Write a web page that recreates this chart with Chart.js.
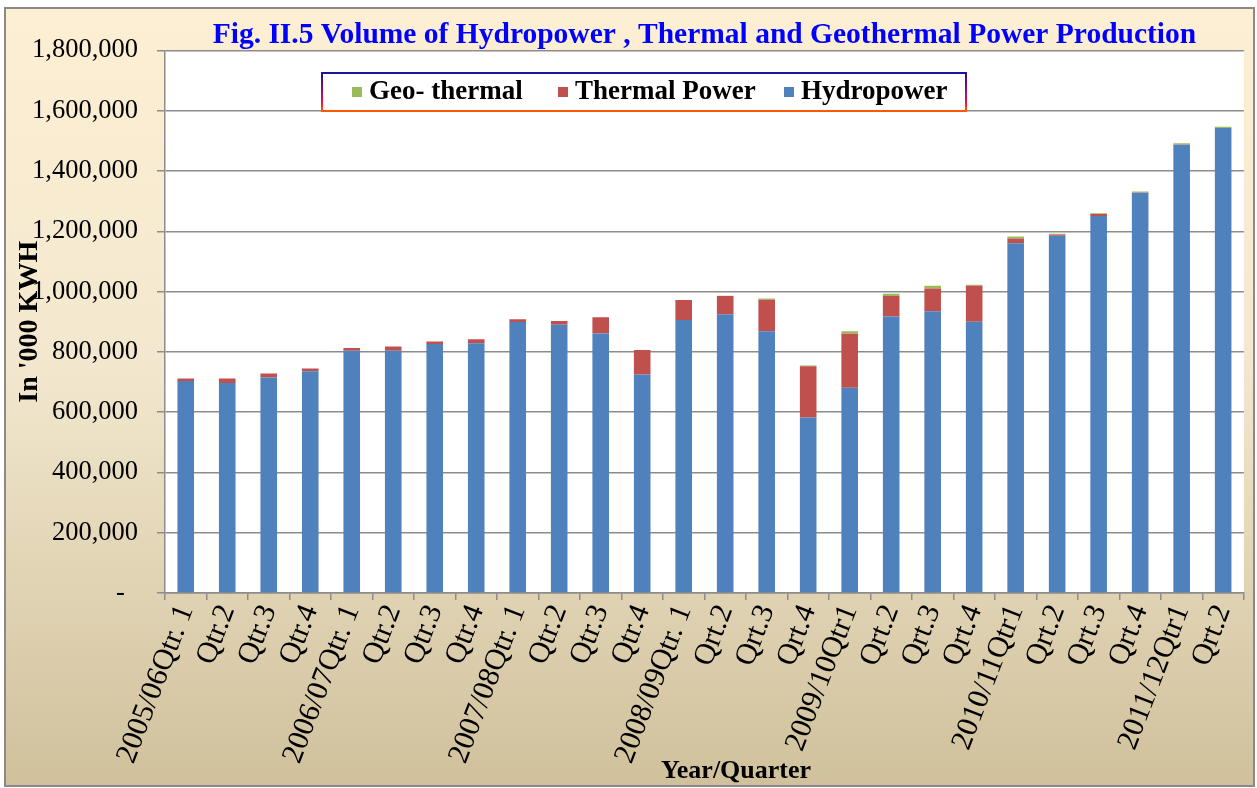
<!DOCTYPE html>
<html>
<head>
<meta charset="utf-8">
<script src="https://cdn.jsdelivr.net/npm/chart.js@4.4.1/dist/chart.umd.min.js"></script>
<style>
html,body{margin:0;padding:0;background:#fff;}
#wrap{width:1257px;height:788px;position:relative;}
</style>
</head>
<body>
<div id="wrap"><canvas id="c" width="1257" height="788"></canvas></div>
<script>
// ---- Data (in '000 KWH) ----
const categories = [
  "2005/06Qtr. 1", "Qtr.2", "Qtr.3", "Qtr.4",
  "2006/07Qtr. 1", "Qtr.2", "Qtr.3", "Qtr.4",
  "2007/08Qtr. 1", "Qtr.2", "Qtr.3", "Qtr.4",
  "2008/09Qtr. 1", "Qrt.2", "Qrt.3", "Qrt.4",
  "2009/10Qtr1", "Qrt.2", "Qrt.3", "Qrt.4",
  "2010/11Qtr1", "Qrt.2", "Qrt.3", "Qrt.4",
  "2011/12Qtr1", "Qrt.2"
];
const hydropower = [703000, 697000, 715000, 736000, 804000, 804000, 826000, 829000, 899000, 890000, 861000, 725000, 906000, 925000, 868000, 582000, 681000, 917000, 935000, 900000, 1160000, 1185000, 1251000, 1328000, 1487000, 1543000];
const thermalPower = [9000, 15000, 13000, 9000, 9000, 14000, 8000, 13000, 9000, 12000, 54000, 81000, 66000, 60000, 105000, 170000, 179000, 68000, 75000, 119000, 16000, 4000, 6000, 1000, 1000, 0];
const geothermal = [0, 0, 0, 0, 0, 0, 0, 0, 0, 0, 0, 0, 0, 1000, 4000, 3000, 8000, 8000, 9000, 4000, 7000, 3000, 3000, 3000, 4000, 4000];
const yMin = 0, yMax = 1800000, yStep = 200000;
const titleText = "Fig. II.5 Volume of Hydropower , Thermal and Geothermal Power Production";
const yTitleText = "In '000 KWH";
const xTitleText = "Year/Quarter";

const serif = "'Liberation Serif','Times New Roman',Times,serif";
const legendItemX = [352, 558, 784];

const bgPlugin = {
  id: 'bg',
  beforeDraw(chart) {
    const ctx = chart.ctx, W = chart.width, H = chart.height;
    ctx.save();
    ctx.fillStyle = '#ffffff';
    ctx.fillRect(0, 0, W, H);
    const g = ctx.createLinearGradient(0, 8, 0, 786);
    g.addColorStop(0, '#FDEFD3');
    g.addColorStop(0.45, '#F3E8CF');
    g.addColorStop(1, '#D0C19C');
    ctx.fillStyle = g;
    ctx.fillRect(5, 8, 1249, 778);
    ctx.strokeStyle = '#8a8a8a';
    ctx.lineWidth = 2;
    ctx.strokeRect(5, 8, 1249, 778);
    const a = chart.chartArea;
    ctx.fillStyle = '#ffffff';
    ctx.fillRect(a.left, a.top, a.right - a.left, a.bottom - a.top);
    ctx.restore();
  },
  afterDraw(chart) {
    const ctx = chart.ctx;
    ctx.save();
    // x-axis title
    ctx.font = 'bold 26px ' + serif;
    ctx.fillStyle = '#000';
    ctx.textAlign = 'center';
    ctx.textBaseline = 'middle';
    ctx.fillText(xTitleText, 736, 771);

    // legend box inside the plot area
    const bx = 322, by = 73, bw = 644, bh = 38;
    ctx.fillStyle = '#ffffff';
    ctx.fillRect(bx, by, bw, bh);
    const lg = ctx.createLinearGradient(0, by, 0, by + bh);
    lg.addColorStop(0, '#1c1496');
    lg.addColorStop(0.45, '#8a0c80');
    lg.addColorStop(0.8, '#ff1030');
    lg.addColorStop(1, '#ff5a00');
    ctx.strokeStyle = lg;
    ctx.lineWidth = 2;
    ctx.strokeRect(bx, by, bw, bh);

    const items = chart.data.datasets.slice().reverse();
    ctx.font = 'bold 27px ' + serif;
    ctx.textAlign = 'left';
    ctx.textBaseline = 'middle';
    const cy = 92;
    items.forEach((ds, i) => {
      const x = legendItemX[i];
      ctx.fillStyle = ds.backgroundColor;
      ctx.fillRect(x, cy - 5, 10, 10);
      ctx.fillStyle = '#000';
      ctx.fillText(ds.label, x + 17, cy);
    });
    ctx.restore();
  }
};

new Chart(document.getElementById('c'), {
  type: 'bar',
  data: {
    labels: categories,
    datasets: [
      { label: 'Hydropower', data: hydropower, backgroundColor: '#4F81BD' },
      { label: 'Thermal Power', data: thermalPower, backgroundColor: '#C0504D' },
      { label: 'Geo- thermal', data: geothermal, backgroundColor: '#9BBB59' }
    ]
  },
  options: {
    responsive: false,
    animation: false,
    layout: { padding: { left: 5, right: 5, top: 8, bottom: 3 } },
    datasets: { bar: { categoryPercentage: 1, barPercentage: 0.4 } },
    plugins: {
      legend: { display: false },
      tooltip: { enabled: false },
      title: {
        display: true,
        text: titleText,
        color: '#0000ff',
        fullSize: false,
        font: { family: serif, size: 29.5, weight: 'bold', lineHeight: 0.9 },
        padding: { top: 14, bottom: 1.9 }
      }
    },
    scales: {
      x: {
        stacked: true,
        grid: { display: true, drawOnChartArea: false, drawTicks: true, tickLength: 7, color: '#8c8c8c', lineWidth: 1.5 },
        border: { color: '#8c8c8c', width: 1.5 },
        ticks: { autoSkip: false, minRotation: 69, maxRotation: 69, color: '#000', font: { family: serif, size: 30 }, padding: 0 },
        afterFit(s) { s.height = 192; }
      },
      y: {
        stacked: true,
        min: yMin,
        max: yMax,
        ticks: {
          stepSize: yStep,
          color: '#000',
          font: { family: serif, size: 26.5 },
          padding: 19,
          callback: v => v === 0 ? '-  ' : Number(v).toLocaleString('en-US')
        },
        grid: { color: '#8c8c8c', lineWidth: 1.5, tickLength: 8 },
        border: { color: '#8c8c8c', width: 1.5 },
        title: { display: true, text: yTitleText, color: '#000', font: { family: serif, size: 28, weight: 'bold' }, padding: { top: 8, bottom: 0 } },
        afterFit(s) { s.width = 160; }
      }
    }
  },
  plugins: [bgPlugin]
});
</script>
</body>
</html>
